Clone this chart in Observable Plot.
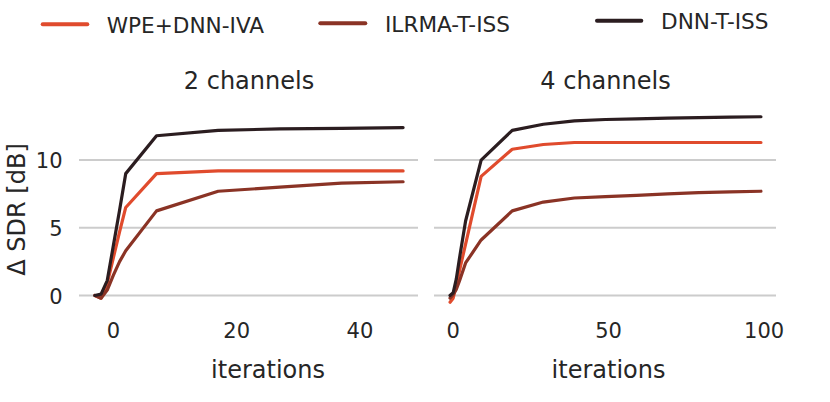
<!DOCTYPE html>
<html><head><meta charset="utf-8">
<script src="https://cdn.jsdelivr.net/npm/d3@7"></script>
<script src="https://cdn.jsdelivr.net/npm/@observablehq/plot@0.6"></script>
<style>
body{margin:0;background:#fff;}
#wrap{position:relative;width:830px;height:402px;font-family:"DejaVu Sans";color:#262626;overflow:hidden;}
#wrap svg{position:absolute;top:0;}
</style></head><body><div id="wrap"></div>
<script>
// ---- data ----
const methods = ["WPE+DNN-IVA", "ILRMA-T-ISS", "DNN-T-ISS"];
const colors = ["#e04b2d", "#8a3325", "#2b1d20"];
const panelTitles = ["2 channels", "4 channels"];
const yLabel = "Δ SDR [dB]";
const xLabel = "iterations";
const yTicks = [0, 5, 10];
const xTicks2 = [0, 20, 40];
const xTicks4 = [0, 50, 100];

const iters2 = [-3, -2, -1, 0, 1, 2, 7, 17, 27, 37, 47];
const wpe2   = [0.0, -0.2, 0.9, 2.8, 4.7, 6.5, 9.0, 9.2, 9.2, 9.2, 9.2];
const ilrma2 = [0.0, -0.2, 0.4, 1.5, 2.5, 3.3, 6.25, 7.7, 8.0, 8.3, 8.4];
const dnn2   = [0.0, 0.1, 1.1, 3.7, 6.3, 9.0, 11.8, 12.2, 12.3, 12.35, 12.4];

const iters4 = [-1, 0, 1, 2, 4, 9, 19, 29, 39, 49, 59, 69, 79, 89, 99];
const wpe4   = [-0.5, -0.2, 0.8, 1.8, 3.8, 8.8, 10.8, 11.15, 11.3, 11.3, 11.3, 11.3, 11.3, 11.3, 11.3];
const ilrma4 = [-0.2, 0.05, 0.45, 1.05, 2.4, 4.1, 6.25, 6.9, 7.2, 7.3, 7.4, 7.5, 7.6, 7.65, 7.7];
const dnn4   = [0.0, 0.2, 1.2, 2.7, 5.5, 10.0, 12.2, 12.65, 12.9, 13.0, 13.05, 13.1, 13.13, 13.18, 13.2];

// ---- build tables ----
function rows(iters, series) {
  const out = [];
  series.forEach((vals, k) => vals.forEach((v, i) => out.push({x: iters[i], y: v, method: methods[k]})));
  return out;
}
const data2 = rows(iters2, [wpe2, ilrma2, dnn2]);
const data4 = rows(iters4, [wpe4, ilrma4, dnn4]);
function padded(vals) { const [a, b] = d3.extent(vals); const m = (b - a) * 0.05; return [a - m, b + m]; }
const yDomain = padded([...data2, ...data4].map(d => d.y));

const wrap = document.getElementById("wrap");
const ink = "#262626";

function panel({data, title, xTicks, showY, left, width, mL, mR, xLabelDx}) {
  const marks = [
    Plot.gridY(yTicks, {stroke: "#cccccc", strokeOpacity: 1, strokeWidth: 2}),
    Plot.axisX(xTicks, {tickSize: 0, tickPadding: 12, fontSize: 21, label: null}),
    Plot.line(data, {x: "x", y: "y", stroke: "method", strokeWidth: 3.2}),
    Plot.text([title], {text: d => d, frameAnchor: "top", lineAnchor: "middle", dy: -26.5, fontSize: 24, fill: ink}),
    Plot.text([xLabel], {text: d => d, frameAnchor: "bottom", lineAnchor: "middle", dy: 59.3, dx: xLabelDx, fontSize: 24, fill: ink})
  ];
  if (showY) {
    marks.push(Plot.axisY(yTicks, {tickSize: 0, tickPadding: 17, fontSize: 21, label: null, dy: 1.5}));
    marks.push(Plot.text([yLabel], {text: d => d, frameAnchor: "left", textAnchor: "middle", lineAnchor: "middle", rotate: -90, dx: -61.7, fontSize: 24, fill: ink}));
  }
  const svg = Plot.plot({
    width, height: 402,
    marginLeft: mL, marginRight: mR, marginTop: 107, marginBottom: 91,
    style: {fontFamily: "DejaVu Sans", color: ink, background: "transparent", overflow: "visible"},
    x: {domain: padded(data.map(d => d.x))},
    y: {domain: yDomain, axis: showY ? undefined : null},
    color: {domain: methods, range: colors},
    marks
  });
  svg.style.left = left + "px";
  wrap.appendChild(svg);
}

panel({data: data2, title: panelTitles[0], xTicks: xTicks2, showY: true, left: 0, width: 420, mL: 79, mR: 2, xLabelDx: 19});
panel({data: data4, title: panelTitles[1], xTicks: xTicks4, showY: false, left: 420, width: 410, mL: 14, mR: 54, xLabelDx: 3});

// ---- legend ----
const ns = "http://www.w3.org/2000/svg";
const leg = document.createElementNS(ns, "svg");
leg.setAttribute("width", 830); leg.setAttribute("height", 45);
leg.style.left = "0px";
const legPos = [
  {x1: 42.7, x2: 87.3, y: 24.3, tx: 106.7, ty: 33},
  {x1: 320.3, x2: 365.3, y: 23.3, tx: 385, ty: 32.3},
  {x1: 597, x2: 641.3, y: 20.7, tx: 661, ty: 29.3}
];
methods.forEach((m, i) => {
  const p = legPos[i];
  const ln = document.createElementNS(ns, "line");
  ln.setAttribute("x1", p.x1); ln.setAttribute("x2", p.x2);
  ln.setAttribute("y1", p.y); ln.setAttribute("y2", p.y);
  ln.setAttribute("stroke", colors[i]); ln.setAttribute("stroke-width", 4);
  ln.setAttribute("stroke-linecap", "round");
  leg.appendChild(ln);
  const t = document.createElementNS(ns, "text");
  t.setAttribute("x", p.tx); t.setAttribute("y", p.ty);
  t.setAttribute("font-family", "DejaVu Sans"); t.setAttribute("font-size", 21.6);
  t.setAttribute("fill", ink);
  t.textContent = m;
  leg.appendChild(t);
});
wrap.appendChild(leg);
</script></body></html>
